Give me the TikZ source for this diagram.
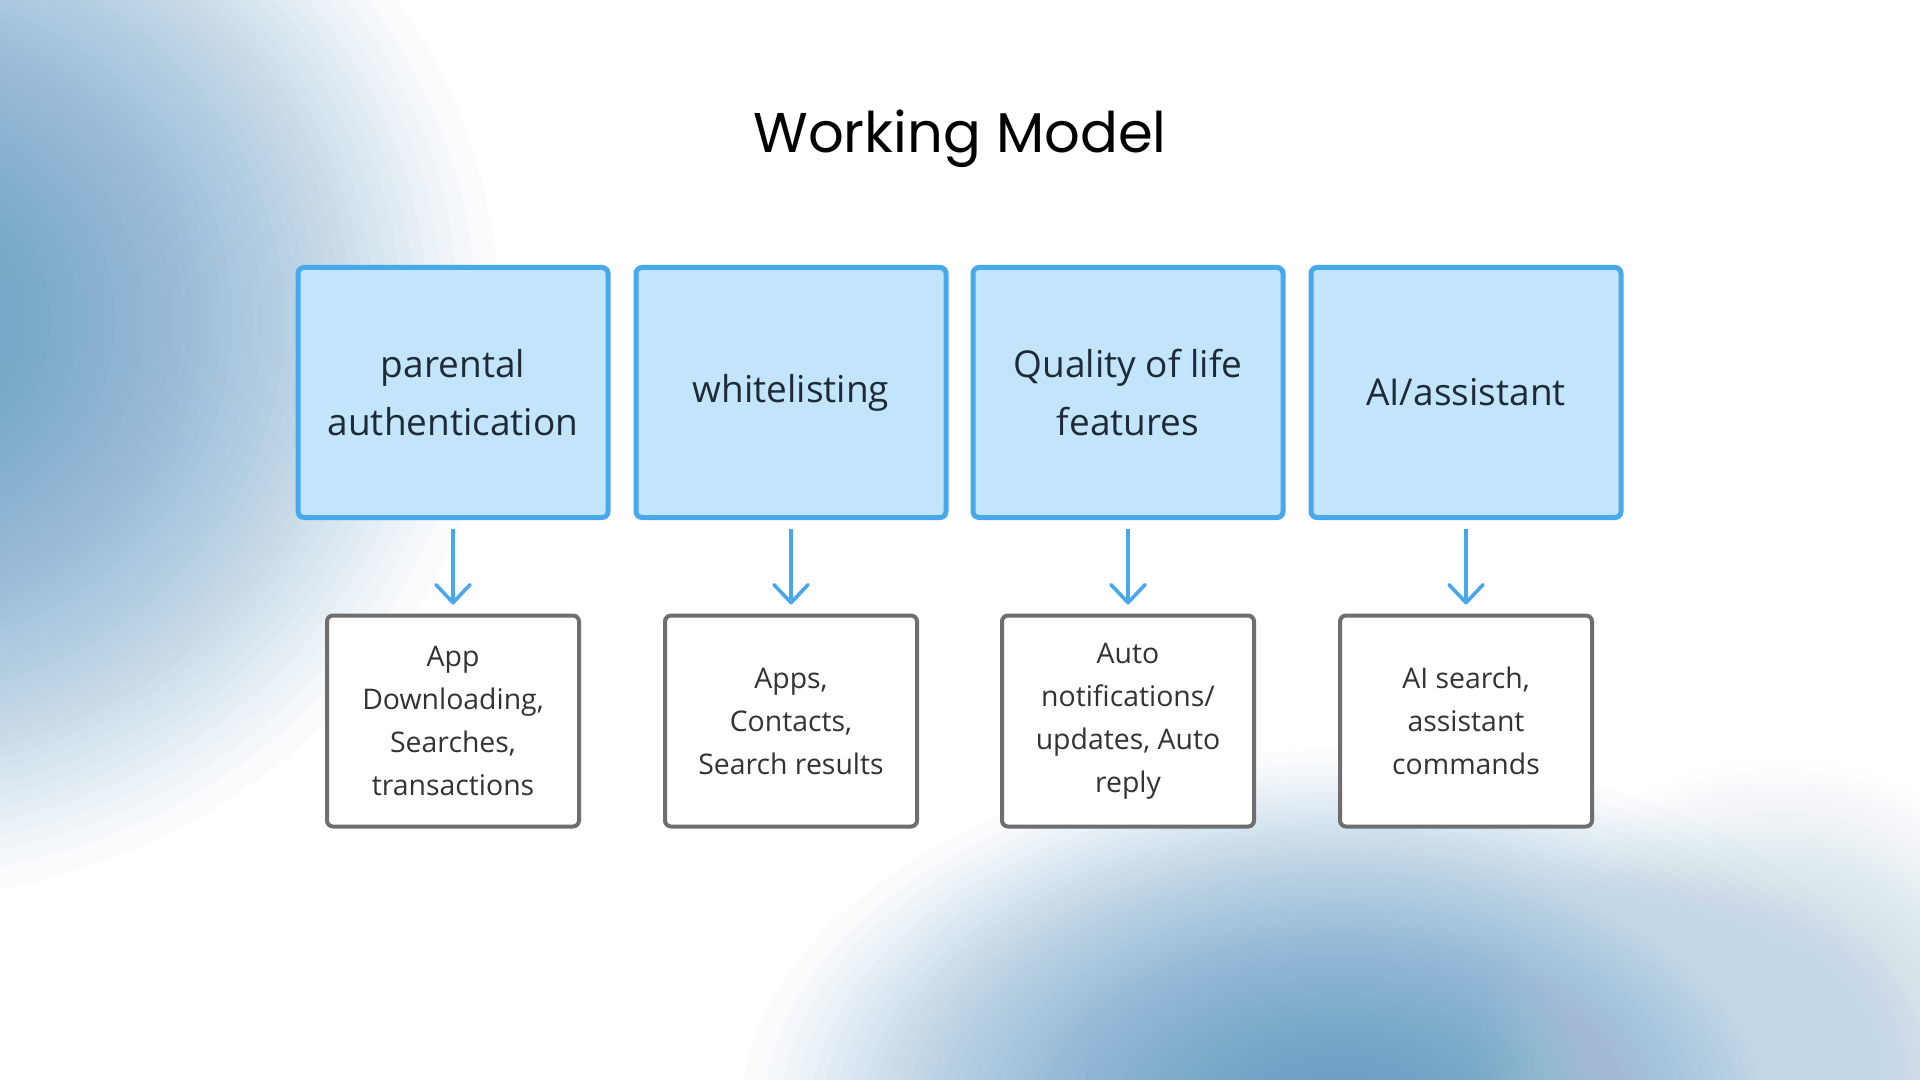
\documentclass[tikz,border=0pt]{standalone}
\usepackage{fontspec}
\setmainfont{Open Sans}
\newfontfamily\titlefont{Poppins}
\usetikzlibrary{arrows.meta}
\definecolor{topfill}{HTML}{C3E5FB}
\definecolor{topline}{HTML}{47A8EC}
\definecolor{toptext}{HTML}{1F2A37}
\definecolor{botline}{HTML}{6E6E6E}
\definecolor{bottext}{HTML}{333333}
\definecolor{blobA}{HTML}{5F9BC8}
\definecolor{blobB}{HTML}{5A98C6}
\definecolor{blobC}{HTML}{C2D8E9}
% soft radial blob: centre x, centre y, x radius (pt), y radius (pt), colour
\newcommand\softblob[5]{%
  \foreach \k in {1,...,60}{%
    \fill[#5, opacity=0.03] (#1,#2) ellipse [x radius={#3pt*(1-(1-\k/60)^0.8)}, y radius={#4pt*(1-(1-\k/60)^0.8)}];}}
\tikzset{
  topbox/.style={draw=topline, fill=topfill, line width=2.5pt, rounded corners=3pt,
    minimum width=155pt, minimum height=125pt, align=center, text=toptext,
    font=\fontsize{18.5pt}{28.75pt}\selectfont, inner sep=0pt},
  botbox/.style={draw=botline, fill=white, line width=2pt, rounded corners=3pt,
    minimum width=126pt, minimum height=105.5pt, align=center, text=bottext,
    font=\fontsize{14.2pt}{21.5pt}\selectfont, inner sep=0pt},
  flow/.style={draw=topline, line width=2pt, shorten <=4.5pt, shorten >=4.5pt,
    -{Straight Barb[length=9pt, width=17pt, line width=1.8pt, round]}}
}
\begin{document}
\begin{tikzpicture}[x=0.5pt, y=-0.5pt]
\useasboundingbox (0,0) rectangle (1920,1080);
\fill[white] (0,0) rectangle (1920,1080);
\begin{scope}
\clip (0,0) rectangle (1920,1080);
\softblob{-120}{320}{310}{290}{blobA}
\softblob{1340}{1120}{300}{185}{blobB}
\softblob{1780}{1060}{150}{150}{blobC}
\end{scope}
\node[font=\titlefont\fontsize{28pt}{34pt}\selectfont, anchor=base] (title) at (960,153) {Working Model};
\node[topbox] (t1) at (453,392.5) {parental\\authentication};
\node[topbox] (t2) at (791,392.5) {whitelisting};
\node[topbox] (t3) at (1128,392.5) {Quality of life\\features};
\node[topbox] (t4) at (1466,392.5) {AI/assistant};
\node[botbox] (b1) at (453,721) {App\\Downloading,\\Searches,\\transactions};
\node[botbox] (b2) at (791,721) {Apps,\\Contacts,\\Search results};
\node[botbox] (b3) at (1128,721) {Auto\\notifications/\\updates, Auto\\reply};
\node[botbox] (b4) at (1466,721) {AI search,\\assistant\\commands};
\draw[flow] (t1) -- (b1);
\draw[flow] (t2) -- (b2);
\draw[flow] (t3) -- (b3);
\draw[flow] (t4) -- (b4);
\end{tikzpicture}
\end{document}
